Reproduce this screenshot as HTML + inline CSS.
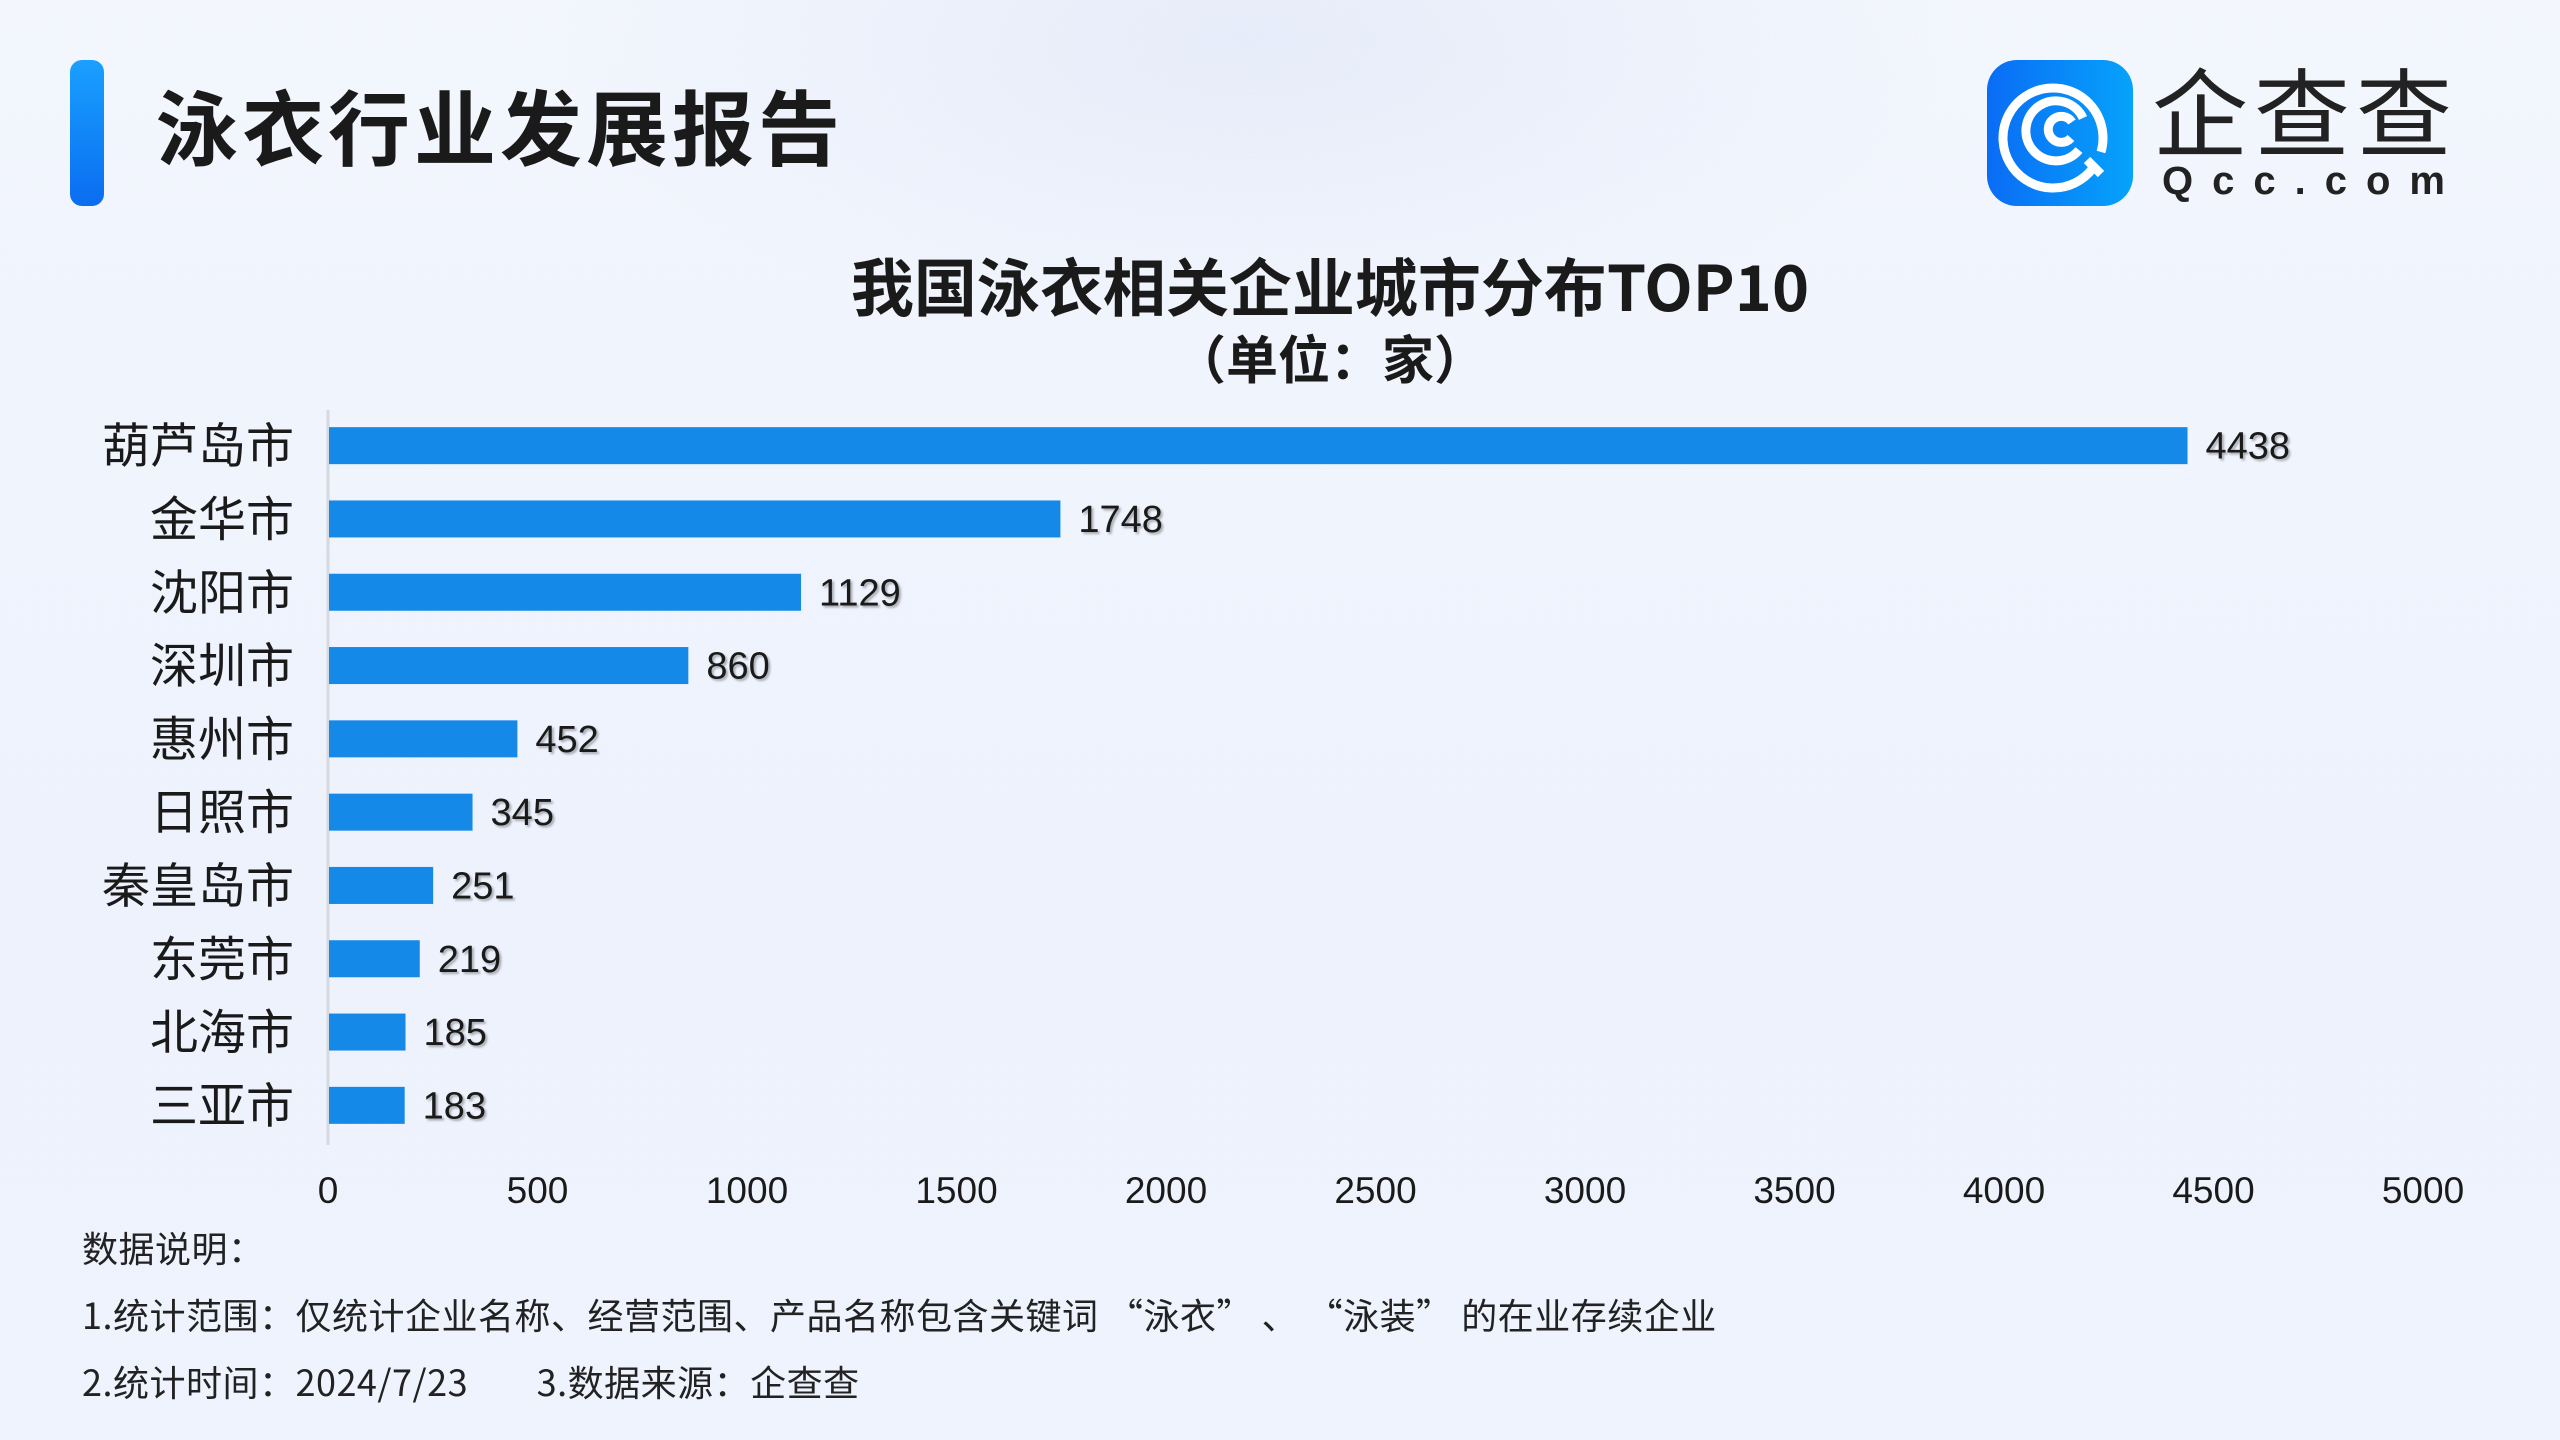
<!DOCTYPE html>
<html><head><meta charset="utf-8"><style>
html,body{margin:0;padding:0}
body{width:2560px;height:1440px;position:relative;overflow:hidden;font-family:"Liberation Sans","Noto Sans CJK SC",sans-serif;
background:radial-gradient(ellipse 700px 300px at 1250px 40px,#e6ecf9 0%,rgba(230,236,249,0) 100%),linear-gradient(180deg,#f3f6fd 0%,#edf2fd 60%,#eef3fd 100%);}
.abs{position:absolute}
.nl{white-space:pre;height:67px}
</style></head><body>
<div class="abs" style="left:70px;top:60px;width:34px;height:146px;border-radius:12px;background:linear-gradient(180deg,#1aa0ff,#0a6df0)"></div>
<div class="abs" style="left:156px;top:74px;font-size:82px;font-weight:bold;color:#1a1a1a;letter-spacing:4px;line-height:100px;font-family:'Noto Sans CJK SC',sans-serif">泳衣行业发展报告</div>
<div class="abs" style="left:1987px;top:60px;width:146px;height:146px;border-radius:30px;background:linear-gradient(90deg,#0a6cf5,#06a3fb)">
<svg width="146" height="146" viewBox="0 0 146 146"><g fill="none" stroke="#fff" stroke-width="9" stroke-linecap="butt">
<path d="M106 108 A50 50 0 1 1 114 92"/><path d="M92 90 A30 30 0 1 1 96 58"/><path d="M84 78 A13 13 0 1 1 85 62"/><path d="M100 100 L114 114"/></g></svg></div>
<div class="abs" style="left:2152px;top:58px;font-size:96px;color:#222;line-height:100px;letter-spacing:6px;font-family:'Noto Sans CJK SC',sans-serif">企查查</div>
<div class="abs" style="left:2162px;top:156px;font-size:40px;color:#222;letter-spacing:19px;font-weight:bold;line-height:50px">Qcc.com</div>
<div class="abs" style="left:0;width:2660px;text-align:center;top:245px;font-size:63px;font-weight:bold;color:#1a1a1a;line-height:80px;font-family:'Noto Sans CJK SC',sans-serif">我国泳衣相关企业城市分布TOP10</div>
<div class="abs" style="left:0;width:2660px;text-align:center;top:322px;font-size:52px;font-weight:bold;color:#1a1a1a;line-height:70px;font-family:'Noto Sans CJK SC',sans-serif">（单位：家）</div>
<svg class="abs" style="left:0;top:0" width="2560" height="1440" id="chart"></svg>
<div class="abs" style="left:82px;top:1214px;font-size:36px;letter-spacing:0.5px;color:#222;line-height:67px;font-family:'Noto Sans CJK SC',sans-serif"><div class="nl">数据说明：</div><div class="nl">1.统计范围：仅统计企业名称、经营范围、产品名称包含关键词 “泳衣” 、 “泳装” 的在业存续企业</div><div class="nl">2.统计时间：2024/7/23        3.数据来源：企查查</div></div>
<script>
const categories=["葫芦岛市","金华市","沈阳市","深圳市","惠州市","日照市","秦皇岛市","东莞市","北海市","三亚市"];
const values=[4438,1748,1129,860,452,345,251,219,185,183];
const ticks=[0,500,1000,1500,2000,2500,3000,3500,4000,4500,5000];
const NS="http://www.w3.org/2000/svg";
const svg=document.getElementById('chart');
const x0=328,x1=2423,xmax=5000;
const xs=v=>x0+(x1-x0)*v/xmax;
const yTop=409,band=73.3,bh=37;
const yc=i=>yTop+band*(i+0.5);
function mk(t,a){const e=document.createElementNS(NS,t);for(const k in a)e.setAttribute(k,a[k]);svg.appendChild(e);return e;}
const ax=mk('line',{x1:x0,x2:x0,y1:410,y2:1145,stroke:'#d6d9de','stroke-width':3});


categories.forEach((c,i)=>{
 const r=mk('rect',{x:x0+1,y:yc(i)-bh/2,width:xs(values[i])-x0-1,height:bh,fill:'#1589e8'});
 
 
 const l=mk('text',{x:294,y:yc(i)+17,'text-anchor':'end','font-size':48,fill:'#1a1a1a','font-family':'Noto Sans CJK SC,sans-serif'});
 l.textContent=c;
 
 
 const v=mk('text',{x:xs(values[i])+18,y:yc(i)+13,'font-size':38,fill:'#1a1a1a','font-family':'Liberation Sans,sans-serif',style:'text-shadow:2px 2px 2px rgba(0,0,0,0.3)'});
 v.textContent=values[i];
 
 
});
ticks.forEach(t=>{
 const e=mk('text',{x:xs(t),y:1203,'text-anchor':'middle','font-size':37,fill:'#1a1a1a','font-family':'Liberation Sans,sans-serif'});
 e.textContent=t;
 
 
});
</script>
</body></html>
